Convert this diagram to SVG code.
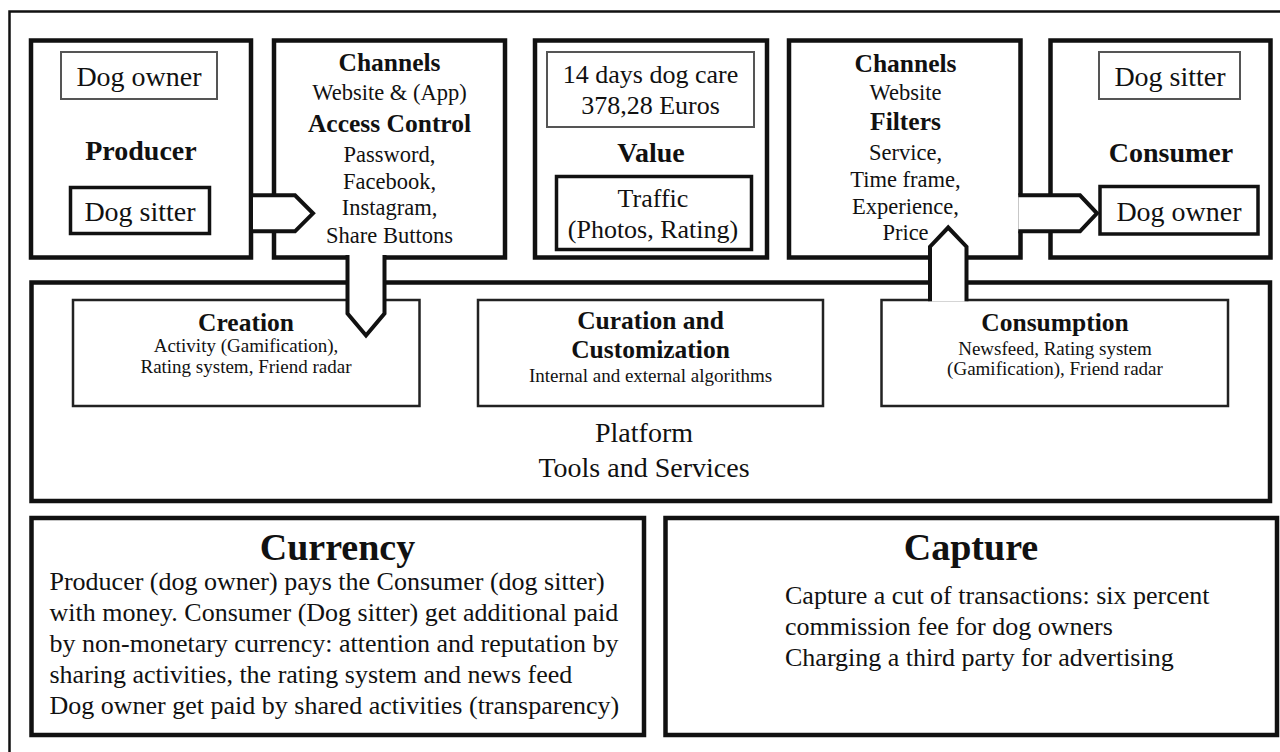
<svg xmlns="http://www.w3.org/2000/svg" width="1280" height="752" viewBox="0 0 1280 752">
  <style>
    text { font-family: "Liberation Serif", "Times New Roman", serif; fill: #111; text-anchor: middle; }
    .b { font-weight: bold; }
    .l { text-anchor: start; }
    .s28 { font-size: 28px; }
    .s26 { font-size: 26px; }
    .s25 { font-size: 25.5px; }
    .s22 { font-size: 22.5px; }
    .s19 { font-size: 19px; }
    .s38 { font-size: 38px; }
    .box { fill: #fff; stroke: #111; stroke-width: 4.5; }
    .thin { fill: none; stroke: #555; stroke-width: 2; }
    .mid { fill: none; stroke: #111; stroke-width: 3.5; }
    .sub { fill: none; stroke: #222; stroke-width: 2.5; }
    .flow { fill: #fff; stroke: #111; stroke-width: 4; stroke-linejoin: miter; }
  </style>

  <rect width="1280" height="752" fill="#fff"/>
  <!-- page frame -->
  <path d="M9.5 752 V11.5 H1280" fill="none" stroke="#111" stroke-width="2.5"/>

  <!-- Producer -->
  <g id="producer">
    <rect class="box" x="31" y="40.5" width="220" height="217"/>
    <rect class="thin" x="61" y="52" width="156" height="47"/>
    <text class="s28" x="139" y="86">Dog owner</text>
    <text class="s28 b" x="141" y="160">Producer</text>
    <rect class="mid" x="70.5" y="187.5" width="139" height="46"/>
    <text class="s28" x="140" y="221">Dog sitter</text>
  </g>

  <!-- Channels / Access control -->
  <g id="access-control">
    <rect class="box" x="274" y="40.5" width="231" height="217"/>
    <text class="s25 b" x="389.5" y="71">Channels</text>
    <text class="s22" x="389.5" y="100">Website &amp; (App)</text>
    <text class="s25 b" x="389.5" y="131.5">Access Control</text>
    <text class="s22" x="389.5" y="161.5">Password,</text>
    <text class="s22" x="389.5" y="188.5">Facebook,</text>
    <text class="s22" x="389.5" y="215">Instagram,</text>
    <text class="s22" x="389.5" y="242.5">Share Buttons</text>
  </g>

  <!-- Value -->
  <g id="value">
    <rect class="box" x="535" y="40.5" width="232" height="217"/>
    <rect class="thin" x="547" y="52" width="207" height="75"/>
    <text class="s26" x="650.5" y="82.5">14 days dog care</text>
    <text class="s26" x="650.5" y="114">378,28 Euros</text>
    <text class="s28 b" x="651" y="161.5">Value</text>
    <rect class="mid" x="556.5" y="176.5" width="195" height="73"/>
    <text class="s26" x="653" y="206.5">Traffic</text>
    <text class="s26" x="653" y="238">(Photos, Rating)</text>
  </g>

  <!-- Channels / Filters -->
  <g id="filters">
    <rect class="box" x="789" y="40.5" width="231.5" height="217"/>
    <text class="s25 b" x="905.5" y="71.5">Channels</text>
    <text class="s22" x="905.5" y="100">Website</text>
    <text class="s25 b" x="905.5" y="130">Filters</text>
    <text class="s22" x="905.5" y="159.5">Service,</text>
    <text class="s22" x="905.5" y="186.5">Time frame,</text>
    <text class="s22" x="905.5" y="213.5">Experience,</text>
    <text class="s22" x="905.5" y="240">Price</text>
  </g>

  <!-- Consumer -->
  <g id="consumer">
    <rect class="box" x="1050.5" y="40.5" width="220" height="217"/>
    <rect class="thin" x="1099" y="52" width="141" height="47"/>
    <text class="s28" x="1170" y="86">Dog sitter</text>
    <text class="s28 b" x="1171" y="161.5">Consumer</text>
    <rect class="mid" x="1100" y="186.5" width="158" height="47.5"/>
    <text class="s28" x="1179" y="221">Dog owner</text>
  </g>

  <!-- Platform with its tools -->
  <g id="platform">
    <rect class="box" x="31.5" y="282.5" width="1238.5" height="218.5"/>
    <text class="s28" x="644" y="441.5">Platform</text>
    <text class="s28" x="644" y="476.5">Tools and Services</text>
  </g>
  <g id="creation">
    <rect class="sub" x="73" y="300" width="346.5" height="106"/>
    <text class="s25 b" x="246" y="330.5">Creation</text>
    <text class="s19" x="246" y="351.5">Activity (Gamification),</text>
    <text class="s19" x="246" y="373">Rating system, Friend radar</text>
  </g>
  <g id="curation">
    <rect class="sub" x="478" y="300" width="345" height="106"/>
    <text class="s25 b" x="650.5" y="329">Curation and</text>
    <text class="s25 b" x="650.5" y="358">Customization</text>
    <text class="s19" x="650.5" y="381.5">Internal and external algorithms</text>
  </g>
  <g id="consumption">
    <rect class="sub" x="881.5" y="300" width="346.5" height="106"/>
    <text class="s25 b" x="1055" y="330.5">Consumption</text>
    <text class="s19" x="1055" y="355">Newsfeed, Rating system</text>
    <text class="s19" x="1055" y="375">(Gamification), Friend radar</text>
  </g>

  <!-- Currency -->
  <g id="currency">
    <rect class="box" x="31.5" y="518" width="612.5" height="217"/>
    <text class="s38 b" x="337.5" y="560">Currency</text>
    <text class="s26 l" x="49.5" y="590">Producer (dog owner) pays the Consumer (dog sitter)</text>
    <text class="s26 l" x="49.5" y="621">with money. Consumer (Dog sitter) get additional paid</text>
    <text class="s26 l" x="49.5" y="651.5">by non-monetary currency: attention and reputation by</text>
    <text class="s26 l" x="49.5" y="683">sharing activities, the rating system and news feed</text>
    <text class="s26 l" x="49.5" y="714">Dog owner get paid by shared activities (transparency)</text>
  </g>

  <!-- Capture -->
  <g id="capture">
    <rect class="box" x="665.5" y="518" width="611.5" height="217"/>
    <text class="s38 b" x="971" y="559.5">Capture</text>
    <text class="s26 l" x="785" y="604">Capture a cut of transactions: six percent</text>
    <text class="s26 l" x="785" y="635">commission fee for dog owners</text>
    <text class="s26 l" x="785" y="666">Charging a third party for advertising</text>
  </g>

  <!-- block arrows between the parts -->
  <g id="connectors">
    <path class="flow" d="M253 195.3 H295 L313 213.3 L295 231.3 H253"/>
    <path class="flow" d="M347.5 255 V313.5 L366 335.5 L384.5 313.5 V255"/>
    <path class="flow" d="M930 301.3 V246.7 L948.2 227.5 L966.5 246.7 V301.3"/>
    <path class="flow" d="M1018.3 195.3 H1080 L1097 213.3 L1080 231.3 H1018.3"/>
  </g>
</svg>
